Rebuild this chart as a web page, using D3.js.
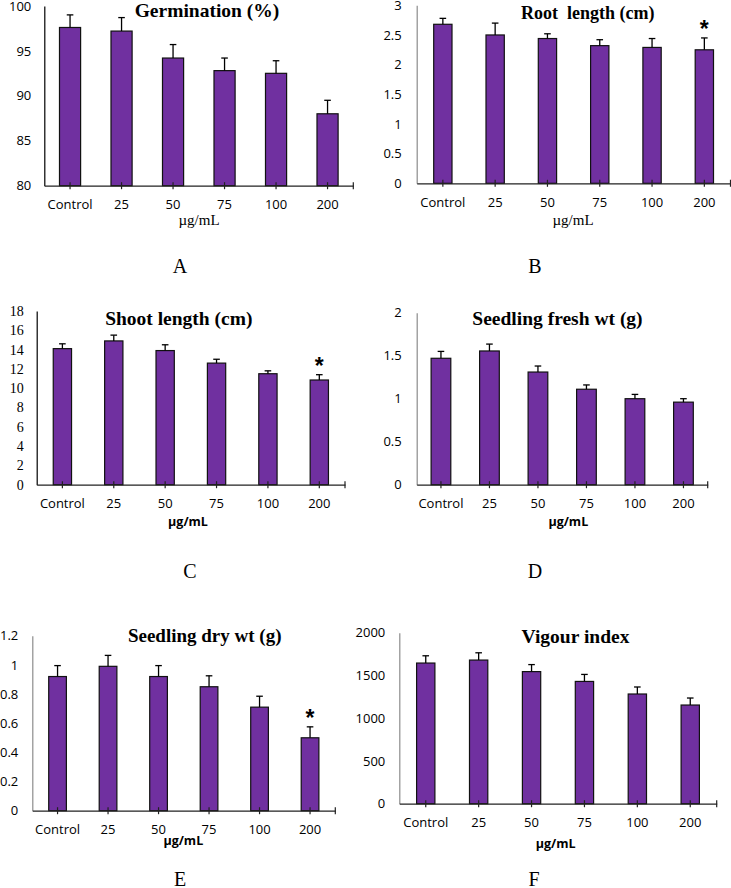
<!DOCTYPE html>
<html>
<head>
<meta charset="utf-8">
<script src="https://cdn.jsdelivr.net/npm/d3@7"></script>
<style>
  html, body { margin: 0; padding: 0; background: #fff; }
  svg { display: block; }
</style>
</head>
<body>
<svg id="chart" width="731" height="888"></svg>
<script>
// ---------- DATA ----------
const categories = ["Control", "25", "50", "75", "100", "200"];

const germination    = [97.6, 97.2, 94.2, 92.8, 92.5, 88.0];
const germinationErr = [1.4, 1.5, 1.5, 1.4, 1.4, 1.5];
const germinationSig = ["", "", "", "", "", ""];
const germinationTicks = [80, 85, 90, 95, 100];

const rootLength    = [2.68, 2.50, 2.44, 2.32, 2.29, 2.25];
const rootLengthErr = [0.10, 0.20, 0.08, 0.10, 0.15, 0.20];
const rootLengthSig = ["", "", "", "", "", "*"];
const rootLengthTicks = [0, 0.5, 1, 1.5, 2, 2.5, 3];

const shootLength    = [14.1, 14.9, 13.9, 12.6, 11.5, 10.85];
const shootLengthErr = [0.5, 0.6, 0.6, 0.4, 0.3, 0.55];
const shootLengthSig = ["", "", "", "", "", "*"];
const shootLengthTicks = [0, 2, 4, 6, 8, 10, 12, 14, 16, 18];

const freshWt    = [1.47, 1.555, 1.31, 1.11, 1.00, 0.96];
const freshWtErr = [0.08, 0.08, 0.07, 0.05, 0.05, 0.04];
const freshWtSig = ["", "", "", "", "", ""];
const freshWtTicks = [0, 0.5, 1, 1.5, 2];

const dryWt    = [0.92, 0.99, 0.92, 0.85, 0.71, 0.50];
const dryWtErr = [0.075, 0.075, 0.075, 0.075, 0.075, 0.075];
const dryWtSig = ["", "", "", "", "", "*"];
const dryWtTicks = [0, 0.2, 0.4, 0.6, 0.8, 1, 1.2];

const vigour    = [1645, 1680, 1545, 1430, 1283, 1154];
const vigourErr = [85, 85, 82, 82, 82, 82];
const vigourSig = ["", "", "", "", "", ""];
const vigourTicks = [0, 500, 1000, 1500, 2000];

const titles = ["Germination (%)", "Root  length (cm)", "Shoot length (cm)",
                "Seedling fresh wt (g)", "Seedling dry wt (g)", "Vigour index"];
const panelLetters = ["A", "B", "C", "D", "E", "F"];
const unitLabel = "µg/mL";

// ---------- LAYOUT ----------
const BAR = "#7030A0";
const SANS = "'Open Sans', 'Noto Sans', sans-serif";
const SERIF = "'Liberation Serif', 'Times New Roman', serif";

const panels = [
  { values: germination, errs: germinationErr, sig: germinationSig, ticks: germinationTicks,
    x0: 44.3, x1: 353.3, y0: 185.7, y1: 5.9, pad: 0.59, yAxisColor: "#000",
    titleX: 207, titleY: 17, titleSize: 19.5,
    unitX: 199, unitY: 225, unitSerif: true,
    letterX: 180, letterY: 273, yLabelSerif: false, yPad: 13 },
  { values: rootLength, errs: rootLengthErr, sig: rootLengthSig, ticks: rootLengthTicks,
    x0: 416.7, x1: 730.5, y0: 183.3, y1: 5.3, pad: 0.65, yAxisColor: "#8c8c8c",
    titleX: 587.7, titleY: 19.3, titleSize: 18,
    unitX: 573, unitY: 224.5, unitSerif: true,
    letterX: 535, letterY: 273, yLabelSerif: false, yPad: 15 },
  { values: shootLength, errs: shootLengthErr, sig: shootLengthSig, ticks: shootLengthTicks,
    x0: 36.7, x1: 345, y0: 484.7, y1: 311, pad: 0.644, yAxisColor: "#000",
    titleX: 178.8, titleY: 325, titleSize: 19.5,
    unitX: 188, unitY: 526, unitSerif: false,
    letterX: 190, letterY: 578, yLabelSerif: true, yPad: 13 },
  { values: freshWt, errs: freshWtErr, sig: freshWtSig, ticks: freshWtTicks,
    x0: 416.7, x1: 707.7, y0: 484.7, y1: 312.7, pad: 0.594, yAxisColor: "#8c8c8c",
    titleX: 557.5, titleY: 325, titleSize: 19.5,
    unitX: 568.3, unitY: 526, unitSerif: false,
    letterX: 535, letterY: 578, yLabelSerif: false, yPad: 15 },
  { values: dryWt, errs: dryWtErr, sig: dryWtSig, ticks: dryWtTicks,
    x0: 32.3, x1: 335.3, y0: 810.7, y1: 635.7, pad: 0.65, yAxisColor: "#8c8c8c",
    titleX: 204.7, titleY: 641.7, titleSize: 19,
    unitX: 183.3, unitY: 845, unitSerif: false,
    letterX: 180, letterY: 886, yLabelSerif: false, yPad: 14 },
  { values: vigour, errs: vigourErr, sig: vigourSig, ticks: vigourTicks,
    x0: 399.3, x1: 716.7, y0: 803.7, y1: 632.7, pad: 0.654, yAxisColor: "#8c8c8c",
    titleX: 575.5, titleY: 642.5, titleSize: 19.5,
    unitX: 555.7, unitY: 848, unitSerif: false,
    letterX: 534, letterY: 886, yLabelSerif: false, yPad: 14 }
];

const svg = d3.select("#chart");

panels.forEach((p, idx) => {
  const g = svg.append("g");
  const x = d3.scaleBand().domain(categories).range([p.x0, p.x1])
    .paddingInner(p.pad).paddingOuter(p.pad / 2);
  const ticks = p.ticks;
  const y = d3.scaleLinear().domain([ticks[0], ticks[ticks.length - 1]]).range([p.y0, p.y1]);

  // Y axis
  const yAxis = g.append("g").attr("transform", `translate(${p.x0},0)`)
    .call(d3.axisLeft(y).tickValues(ticks).tickSize(0).tickPadding(p.yPad)
      .tickFormat(d => String(d)));
  yAxis.select(".domain").attr("stroke", p.yAxisColor).attr("stroke-width", 1.2);
  yAxis.selectAll("text")
    .attr("font-family", p.yLabelSerif ? SERIF : SANS)
    .attr("font-size", p.yLabelSerif ? 14 : 13)
    .attr("fill", "#000");

  // Bars
  g.selectAll("rect.bar").data(p.values).join("rect")
    .attr("class", "bar")
    .attr("x", (d, i) => x(categories[i]))
    .attr("width", x.bandwidth())
    .attr("y", d => y(d))
    .attr("height", d => y(ticks[0]) - y(d))
    .attr("fill", BAR)
    .attr("stroke", "#111")
    .attr("stroke-width", 1.2);

  // Error bars (upper only)
  const cx = i => x(categories[i]) + x.bandwidth() / 2;
  const eb = g.selectAll("g.err").data(p.values).join("g").attr("class", "err");
  eb.append("line")
    .attr("x1", (d, i) => cx(i)).attr("x2", (d, i) => cx(i))
    .attr("y1", d => y(d)).attr("y2", (d, i) => y(d + p.errs[i]))
    .attr("stroke", "#000").attr("stroke-width", 1.3);
  eb.append("line")
    .attr("x1", (d, i) => cx(i) - 3.3).attr("x2", (d, i) => cx(i) + 3.3)
    .attr("y1", (d, i) => y(d + p.errs[i])).attr("y2", (d, i) => y(d + p.errs[i]))
    .attr("stroke", "#000").attr("stroke-width", 1.3);

  // Significance marks
  g.selectAll("text.sig").data(p.values).join("text")
    .attr("class", "sig")
    .attr("x", (d, i) => cx(i))
    .attr("y", (d, i) => y(d + p.errs[i]) - 1)
    .attr("text-anchor", "middle")
    .attr("font-family", "'Liberation Sans', sans-serif")
    .attr("font-weight", "bold")
    .attr("font-size", 23)
    .attr("fill", "#000")
    .text((d, i) => p.sig[i]);

  // X axis
  const xAxis = g.append("g").attr("transform", `translate(0,${p.y0})`)
    .call(d3.axisBottom(x).tickSize(0).tickSizeOuter(0).tickPadding(14.5));
  xAxis.select(".domain").attr("stroke", "#222").attr("stroke-width", 1.3);
  xAxis.selectAll("text").attr("font-family", SANS).attr("font-size", 13).attr("fill", "#000");

  // crossing tick marks at category centres and at axis end
  const tickXs = categories.map((c, i) => cx(i)).concat([p.x1]);
  g.selectAll("line.xt").data(tickXs).join("line")
    .attr("class", "xt")
    .attr("x1", d => d).attr("x2", d => d)
    .attr("y1", p.y0 - 3.5).attr("y2", p.y0 + 3.5)
    .attr("stroke", "#222").attr("stroke-width", 1.2);

  // Title
  g.append("text")
    .attr("x", p.titleX).attr("y", p.titleY)
    .attr("text-anchor", "middle")
    .attr("font-family", SERIF).attr("font-weight", "bold")
    .attr("font-size", p.titleSize)
    .attr("fill", "#000")
    .style("white-space", "pre")
    .text(titles[idx]);

  // Unit label
  g.append("text")
    .attr("x", p.unitX).attr("y", p.unitY)
    .attr("text-anchor", "middle")
    .attr("font-family", p.unitSerif ? SERIF : SANS)
    .attr("font-weight", p.unitSerif ? "normal" : "bold")
    .attr("font-size", p.unitSerif ? 15 : 12.5)
    .attr("fill", "#000")
    .text(unitLabel);

  // Panel letter
  g.append("text")
    .attr("x", p.letterX).attr("y", p.letterY)
    .attr("text-anchor", "middle")
    .attr("font-family", SERIF)
    .attr("font-size", 20)
    .attr("fill", "#000")
    .text(panelLetters[idx]);
});
</script>
</body>
</html>
